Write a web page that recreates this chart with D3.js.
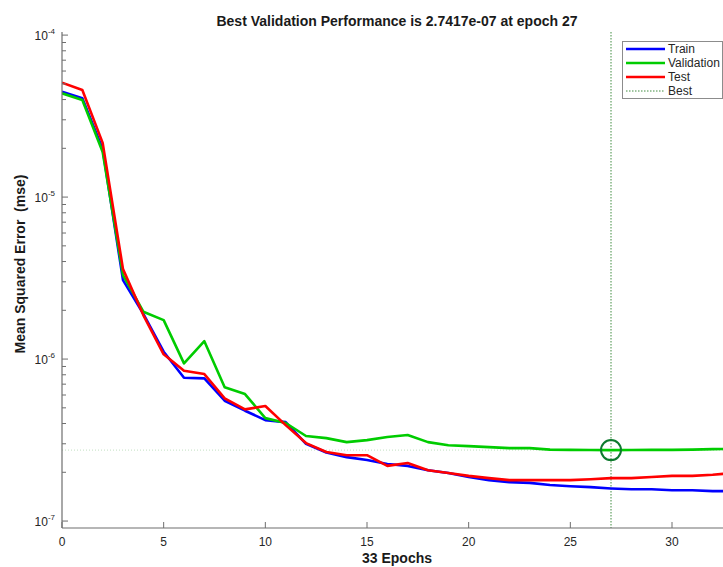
<!DOCTYPE html>
<html>
<head>
<meta charset="utf-8">
<script src="https://cdn.jsdelivr.net/npm/d3@7"></script>
<style>
  body { margin: 0; background: #fff; }
  svg { display: block; font-family: "Liberation Sans", Arial, sans-serif; }
</style>
</head>
<body>
<svg id="chart" width="723" height="567"></svg>
<script>
// epochs 0..33
const epochs = d3.range(0, 34);

const train = [4.47e-5, 4.07e-5, 1.98e-5, 3.07e-6, 1.90e-6, 1.11e-6, 7.66e-7, 7.6e-7, 5.53e-7, 4.80e-7,
  4.20e-7, 4.08e-7, 3.0e-7, 2.65e-7, 2.48e-7, 2.38e-7, 2.25e-7, 2.19e-7, 2.06e-7, 1.98e-7,
  1.87e-7, 1.79e-7, 1.74e-7, 1.72e-7, 1.67e-7, 1.64e-7, 1.62e-7, 1.59e-7, 1.57e-7, 1.57e-7,
  1.55e-7, 1.55e-7, 1.53e-7, 1.53e-7];

const validation = [4.37e-5, 3.97e-5, 1.90e-5, 3.30e-6, 1.96e-6, 1.74e-6, 9.41e-7, 1.29e-6, 6.69e-7, 6.08e-7,
  4.32e-7, 4.03e-7, 3.35e-7, 3.25e-7, 3.07e-7, 3.16e-7, 3.30e-7, 3.40e-7, 3.07e-7, 2.94e-7,
  2.90e-7, 2.86e-7, 2.82e-7, 2.82e-7, 2.76e-7, 2.75e-7, 2.745e-7, 2.7417e-7, 2.745e-7, 2.75e-7,
  2.75e-7, 2.76e-7, 2.78e-7, 2.79e-7];

const test = [5.08e-5, 4.58e-5, 2.16e-5, 3.59e-6, 1.87e-6, 1.07e-6, 8.47e-7, 8.08e-7, 5.72e-7, 4.89e-7,
  5.13e-7, 3.91e-7, 3.03e-7, 2.67e-7, 2.55e-7, 2.55e-7, 2.19e-7, 2.28e-7, 2.06e-7, 1.98e-7,
  1.90e-7, 1.84e-7, 1.79e-7, 1.79e-7, 1.79e-7, 1.79e-7, 1.81e-7, 1.84e-7, 1.84e-7, 1.87e-7,
  1.90e-7, 1.90e-7, 1.93e-7, 1.98e-7];

const bestEpoch = 27;
const bestValue = 2.7417e-7;

const seriesNames = ['Train', 'Validation', 'Test', 'Best'];
const seriesColors = ['#0000ff', '#00cc00', '#ff0000', '#2a7f2a'];
const xTicks = [0, 5, 10, 15, 20, 25, 30];
const yDecades = [-7, -6, -5, -4];

const svg = d3.select('#chart');
const pLeft = 62, pRight = 733, pTop = 32, pBottom = 528;

const x = d3.scaleLinear().domain([0, 33]).range([pLeft, pRight]);
const y = d3.scaleLog().domain([9.06e-8, 1.045e-4]).range([pBottom, pTop]);

svg.append('defs').append('clipPath').attr('id', 'plotclip')
  .append('rect').attr('x', pLeft).attr('y', pTop - 2).attr('width', pRight - pLeft).attr('height', pBottom - pTop + 2);

// best reference lines
svg.append('line')
  .attr('x1', x(0)).attr('x2', x(33))
  .attr('y1', y(bestValue)).attr('y2', y(bestValue))
  .attr('stroke', '#c2dfc2').attr('stroke-width', 1).attr('stroke-dasharray', '1,2');
svg.append('line')
  .attr('x1', x(bestEpoch)).attr('x2', x(bestEpoch))
  .attr('y1', pTop).attr('y2', pBottom)
  .attr('stroke', '#2a7f2a').attr('stroke-width', 0.9).attr('stroke-dasharray', '1.5,1.5');

// curves
const line = d3.line().x((d, i) => x(epochs[i])).y(d => y(d));
const plot = svg.append('g').attr('clip-path', 'url(#plotclip)');
[train, validation, test].forEach((s, i) => {
  plot.append('path').datum(s)
    .attr('d', line)
    .attr('fill', 'none')
    .attr('stroke', seriesColors[i])
    .attr('stroke-width', 2.6)
    .attr('stroke-linejoin', 'round');
});

// best marker
svg.append('circle')
  .attr('cx', x(bestEpoch)).attr('cy', y(bestValue)).attr('r', 10)
  .attr('fill', 'none').attr('stroke', '#0e7a2e').attr('stroke-width', 2);

// axes lines
const axisColor = '#6e6e6e';
svg.append('line').attr('x1', pLeft).attr('x2', pLeft).attr('y1', pTop).attr('y2', pBottom)
  .attr('stroke', axisColor).attr('stroke-width', 1.2);
svg.append('line').attr('x1', pLeft).attr('x2', 723).attr('y1', pBottom).attr('y2', pBottom)
  .attr('stroke', axisColor).attr('stroke-width', 1.2);

// x ticks
xTicks.forEach(t => {
  svg.append('line').attr('x1', x(t)).attr('x2', x(t)).attr('y1', pBottom).attr('y2', pBottom - 6)
    .attr('stroke', axisColor);
  svg.append('text').attr('x', x(t)).attr('y', 546).attr('text-anchor', 'middle')
    .attr('font-size', 12).attr('fill', '#262626').text(t);
});

// y ticks (log, with minor ticks)
yDecades.forEach(p => {
  const v = Math.pow(10, p);
  svg.append('line').attr('x1', pLeft).attr('x2', pLeft + 6).attr('y1', y(v)).attr('y2', y(v))
    .attr('stroke', axisColor);
  const t = svg.append('text').attr('x', 55).attr('y', y(v) + 5).attr('text-anchor', 'end')
    .attr('font-size', 12).attr('fill', '#262626');
  t.append('tspan').text('10');
  t.append('tspan').attr('dy', -6).attr('font-size', 8).text(String(p));
  if (p < -4) {
    for (let k = 2; k <= 9; k++) {
      const mv = k * v;
      svg.append('line').attr('x1', pLeft).attr('x2', pLeft + 4).attr('y1', y(mv)).attr('y2', y(mv))
        .attr('stroke', axisColor);
    }
  }
});

// labels
svg.append('text').attr('x', 397).attr('y', 26).attr('text-anchor', 'middle')
  .attr('font-size', 14).attr('font-weight', 'bold').attr('fill', '#1a1a1a')
  .text('Best Validation Performance is 2.7417e-07 at epoch 27');
svg.append('text').attr('x', 397).attr('y', 563).attr('text-anchor', 'middle')
  .attr('font-size', 14).attr('font-weight', 'bold').attr('fill', '#1a1a1a')
  .text('33 Epochs');
svg.append('text').attr('transform', 'translate(25,264) rotate(-90)').attr('text-anchor', 'middle')
  .attr('font-size', 14).attr('font-weight', 'bold').attr('fill', '#1a1a1a')
  .style('white-space', 'pre')
  .text('Mean Squared Error  (mse)');

// legend
const lg = svg.append('g');
lg.append('rect').attr('x', 622.5).attr('y', 41.5).attr('width', 100).attr('height', 57)
  .attr('fill', '#fff').attr('stroke', '#8c8c8c').attr('stroke-width', 1);
seriesNames.forEach((name, i) => {
  const yy = 49 + i * 14;
  lg.append('line').attr('x1', 626).attr('x2', 665).attr('y1', yy).attr('y2', yy)
    .attr('stroke', seriesColors[i])
    .attr('stroke-width', i < 3 ? 2.6 : 0.9)
    .attr('stroke-dasharray', i < 3 ? null : '1.5,1.5');
  lg.append('text').attr('x', 668).attr('y', yy + 4).attr('font-size', 12)
    .attr('fill', '#262626').text(name);
});
</script>
</body>
</html>
